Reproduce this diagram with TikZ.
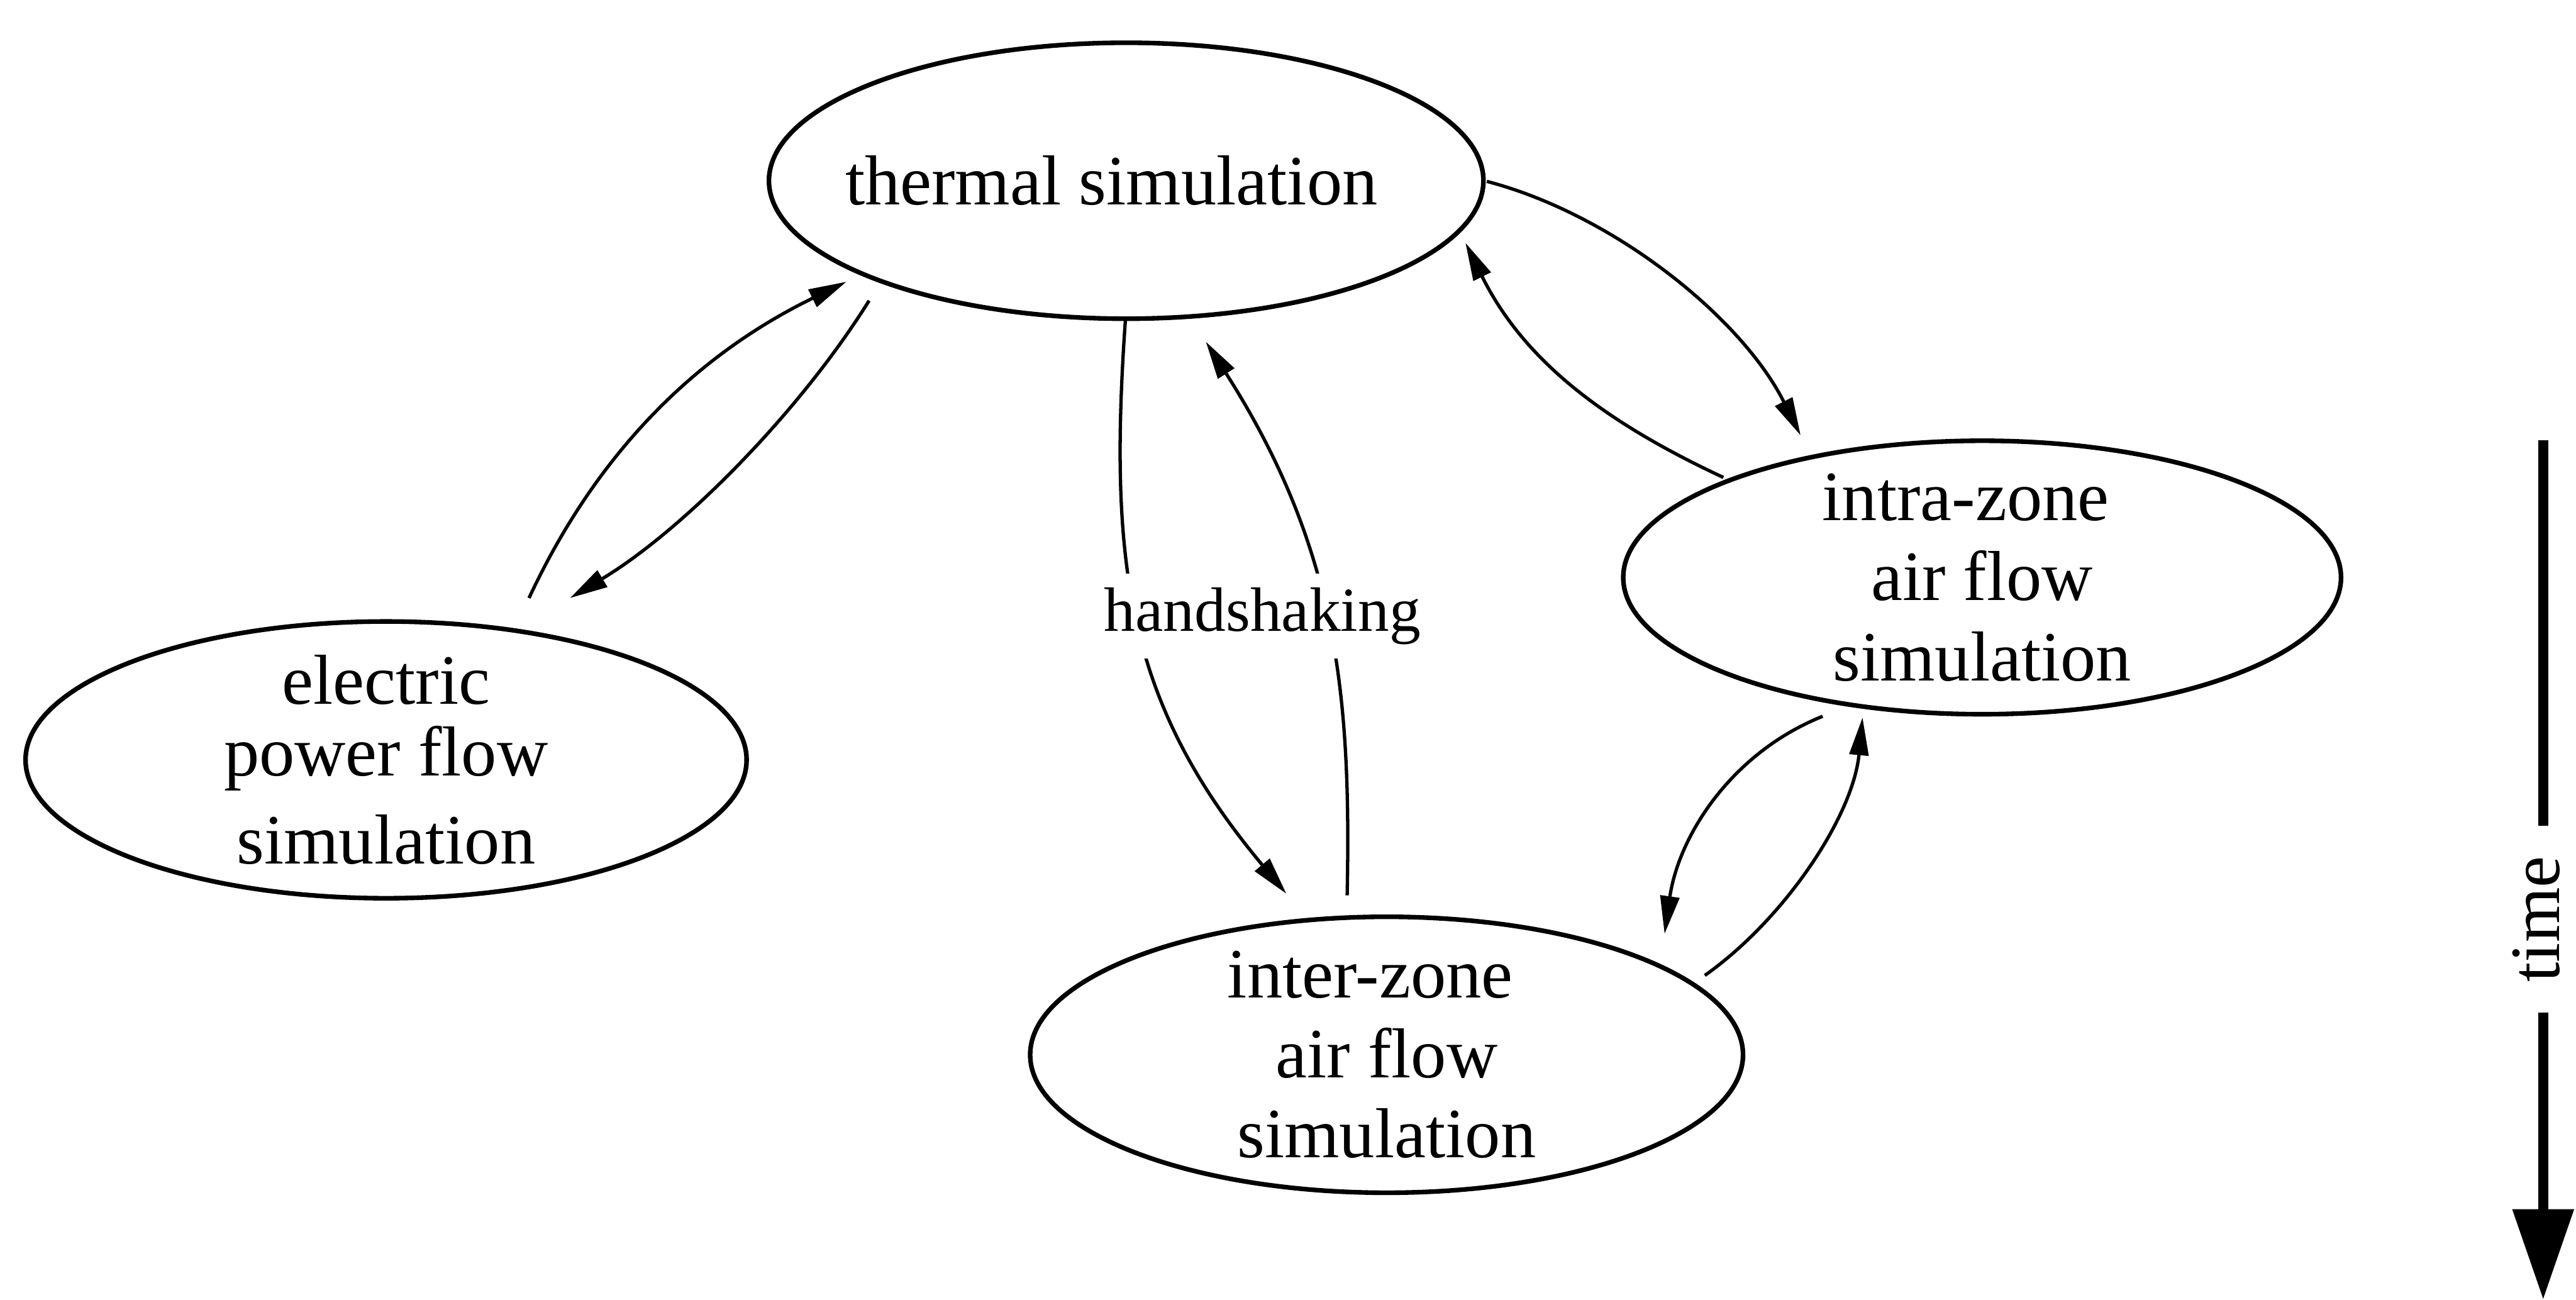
\documentclass[tikz,border=0pt]{standalone}
\usepackage{fontspec}
\setmainfont{Liberation Serif}
\usetikzlibrary{arrows.meta,shapes.geometric,calc}
\begin{document}
\begin{tikzpicture}[x=0.02cm,y=-0.02cm,
  sim/.style={ellipse,draw,line width=1.6pt,inner sep=-0.5cm,outer sep=0pt,align=center,
    font=\fontsize{24.5}{27.7}\selectfont},
  conn/.style={line width=1.15pt,-{Triangle[length=0.46cm,width=0.23cm]}},
  lbl/.style={fill=white,anchor=base,inner xsep=2pt,inner ysep=4.8pt,
    font=\fontsize{21.7}{26}\selectfont},
  timearrow/.style={line width=0.12cm,-{Triangle[length=1.1cm,width=0.72cm]}},
  timelbl/.style={rotate=90,anchor=base,fill=white,inner xsep=0.37cm,inner ysep=0pt,
    font=\fontsize{24.5}{27.7}\selectfont}]
\useasboundingbox (0,0) rectangle (1568,791);

\node[sim,minimum width=8.7cm,minimum height=3.36cm] (thermal) at (685.5,110)
  {thermal simulation\hspace{0.36cm}\mbox{}};
\node[sim,minimum width=8.78cm,minimum height=3.37cm] (electric) at (235,462.5)
  {electric\\[-0.1cm]power flow\\[0.094cm]simulation};
\node[sim,minimum width=8.74cm,minimum height=3.33cm] (intra) at (1206.5,351.5)
  {intra-zone\hspace{0.4cm}\mbox{}\\air flow\\simulation};
\node[sim,minimum width=8.68cm,minimum height=3.36cm] (inter) at (844,642)
  {inter-zone\hspace{0.4cm}\mbox{}\\air flow\\simulation};

% electric <-> thermal
\draw[conn] ($(electric)+(87,-98.5)$) .. controls +(42.3,-90.6) and +(-89.9,43.8) .. ($(thermal)+(-170.3,61.5)$);
\draw[conn] ($(thermal)+(-156.5,73)$) .. controls +(-42.4,68) and +(68.6,-41.2) .. ($(electric)+(112,-98.5)$);

% thermal <-> inter (handshaking)
\draw[conn] ($(thermal)+(-0.5,85)$) .. controls +(-10.5,150) and +(-96.2,-115) .. ($(inter)+(-61,-98)$);
\draw[conn] ($(inter)+(-24,-97)$) .. controls +(2.4,-120) and +(80.7,126.5) .. ($(thermal)+(48.5,98)$);
\node[lbl] (hs) at (768.5,384) {handshaking};

% thermal <-> intra
\draw[conn] ($(thermal)+(219.5,0.4)$) .. controls +(77.4,20.2) and +(-35.8,-71.5) .. ($(intra)+(-110.5,-86.5)$);
\draw[conn] ($(intra)+(-157.5,-60.9)$) .. controls +(-72.5,-33.8) and +(35.5,71.7) .. ($(thermal)+(206.5,37.8)$);

% intra <-> inter
\draw[conn] ($(intra)+(-97.1,84.5)$) .. controls +(-55.7,22.3) and +(8.5,-59.4) .. ($(inter)+(169.2,-73.6)$);
\draw[conn] ($(inter)+(193.7,-48.3)$) .. controls +(49,-34.6) and +(-5.7,59.7) .. ($(intra)+(-72.8,85.2)$);

% time axis
\coordinate (ttop) at (1548,268);
\coordinate (tbot) at (1548,791);
\draw[timearrow] (ttop) -- (tbot);
\node[timelbl] (time) at (1557.7,559.5) {time};
\end{tikzpicture}
\end{document}
